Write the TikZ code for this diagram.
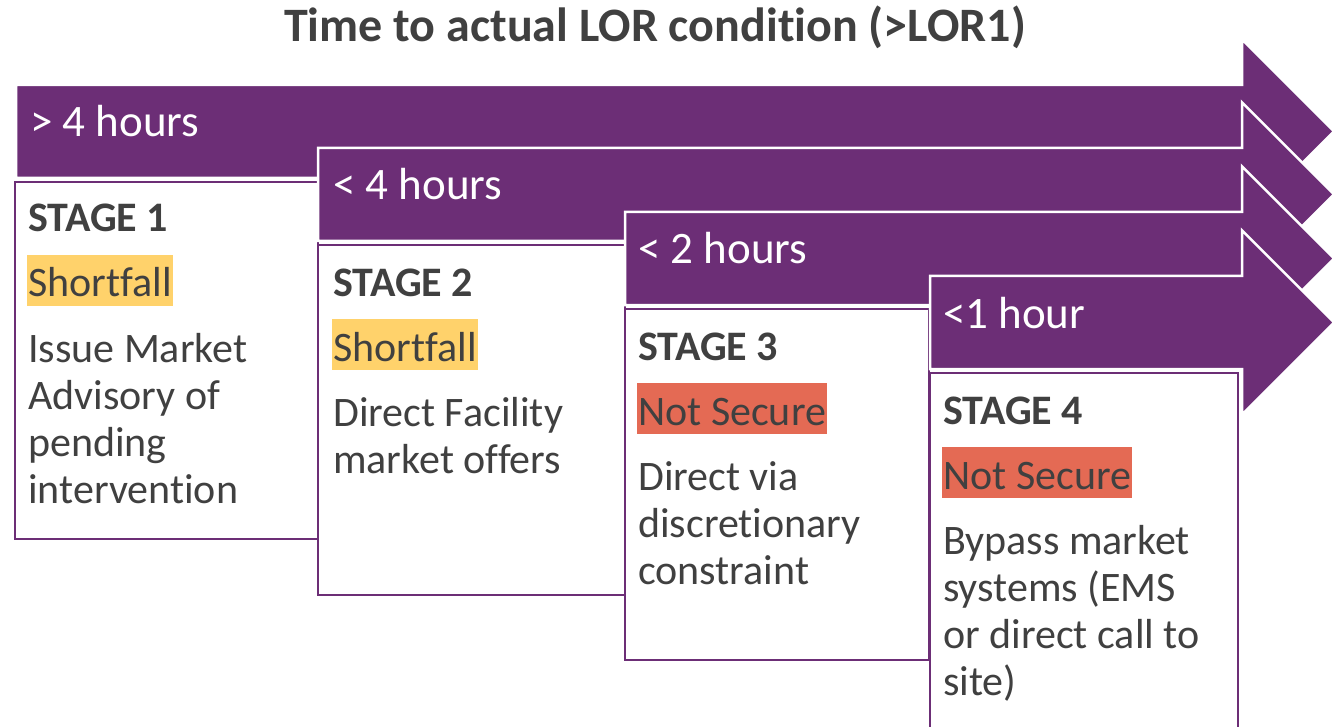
\documentclass[tikz,border=0pt]{standalone}
\usepackage{fontspec}
\setmainfont[Ligatures={NoCommon}]{Carlito}
\definecolor{purp}{RGB}{108,46,118}
\definecolor{txt}{RGB}{64,64,64}
\definecolor{shortc}{RGB}{255,210,107}
\definecolor{notsec}{RGB}{228,106,84}
\tikzset{
  arrowshape/.style={fill=purp,draw=white,line width=2.5pt,line join=miter},
  stagebox/.style={draw=purp,fill=white,line width=2.5pt},
  arrtext/.style={anchor=base west,inner sep=0pt,text=white,font=\fontsize{45}{50}\selectfont},
  stagetitle/.style={anchor=base west,inner sep=0pt,text=txt,font=\fontsize{42}{47}\selectfont\bfseries},
  hl/.style={anchor=base west,inner xsep=1pt,inner ysep=0pt,text height=42pt,text depth=9pt,text=txt,font=\fontsize{42}{47}\selectfont},
  bodytext/.style={anchor=base west,inner sep=0pt,text=txt,font=\fontsize{42}{47}\selectfont},
}
\newcommand{\myarrow}[3]{% left x, top y, bottom y
  \path[arrowshape] (#1,#2) -- (1242,#2) -- (1242,{(#2+#3)/2-92}) -- (1334,{(#2+#3)/2}) -- (1242,{(#2+#3)/2+92}) -- (1242,#3) -- (#1,#3) -- cycle;
}
\newcommand{\lines}[1]{\begin{tabular}[t]{@{}l@{}}#1\end{tabular}}
\begin{document}
\begin{tikzpicture}[x=1pt,y=-1pt]
\clip (0,0) rectangle (1338,727);
\fill[white] (0,0) rectangle (1338,727);
\node[anchor=base,inner sep=0pt,text=txt,font=\fontsize{48}{54}\selectfont\bfseries] (title) at (655,42) {Time to actual LOR condition (>LOR1)};

\myarrow{16}{85}{178}
\node[arrtext] (a1) at (30,137) {> 4 hours};
\draw[stagebox] (15,182) rectangle (318,539);

\myarrow{318}{148}{241}
\node[arrtext] (a2) at (333,200) {< 4 hours};
\draw[stagebox] (318,245) rectangle (625,595);

\myarrow{625}{212}{305}
\node[arrtext] (a3) at (638,264) {< 2 hours};
\draw[stagebox] (625,309) rectangle (929,660);

\myarrow{930}{276}{369}
\node[arrtext] (a4) at (943,328) {<1 hour};
\draw[stagebox] (930,373) rectangle (1238,760);

% stage 1
\node[stagetitle] (s1) at (28,232) {STAGE 1};
\node[hl,fill=shortc] (h1) at (27,297) {Shortfall};
\node[bodytext] (b1) at (28,362) {\lines{Issue Market\\Advisory of\\pending\\intervention}};
% stage 2
\node[stagetitle] (s2) at (333,296) {STAGE 2};
\node[hl,fill=shortc] (h2) at (332,361) {Shortfall};
\node[bodytext] (b2) at (333,426) {\lines{Direct Facility\\market offers}};
% stage 3
\node[stagetitle] (s3) at (638,360) {STAGE 3};
\node[hl,fill=notsec] (h3) at (637,425) {Not Secure};
\node[bodytext] (b3) at (638,490) {\lines{Direct via\\discretionary\\constraint}};
% stage 4
\node[stagetitle] (s4) at (943,424) {STAGE 4};
\node[hl,fill=notsec] (h4) at (942,489) {Not Secure};
\node[bodytext] (b4) at (943,554) {\lines{Bypass market\\systems (EMS\\or direct call to\\site)}};
\end{tikzpicture}
\end{document}
